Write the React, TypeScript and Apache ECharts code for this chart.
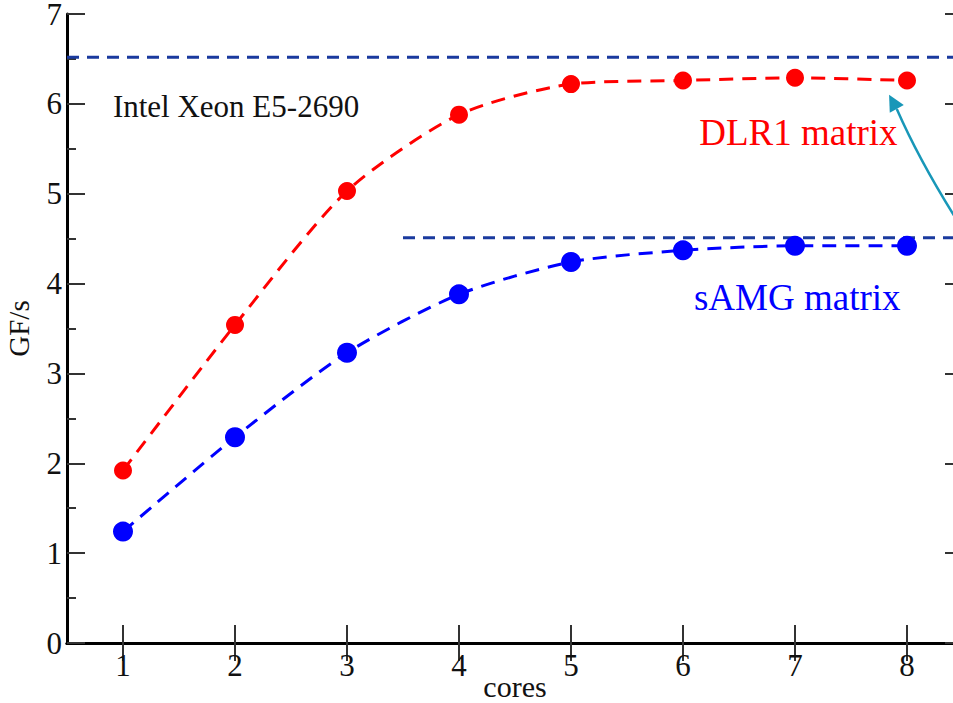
import React, { useEffect, useRef } from "react";
import * as echarts from "echarts";

const cores = [1, 2, 3, 4, 5, 6, 7, 8];
const dlr1 = [1.92, 3.54, 5.03, 5.88, 6.22, 6.26, 6.29, 6.26];
const samg = [1.24, 2.29, 3.23, 3.88, 4.24, 4.37, 4.42, 4.42];
const dlr1Peak = 6.52;
const samgPeak = 4.51;
const samgPeakStart = 3.5;
const xRange = [0.5, 8.5];
const yTicks = [0, 1, 2, 3, 4, 5, 6, 7];

const FONT = "'Liberation Serif', 'Times New Roman', serif";

export default function App() {
  const ref = useRef<HTMLDivElement>(null);
  useEffect(() => {
    document.body.style.margin = "0";
    const chart = echarts.init(ref.current!, null, { renderer: "svg" });
    const axisLine = { show: true, lineStyle: { color: "#000", width: 3 } };
    const tick = (show: boolean) => ({
      show,
      inside: true,
      length: 18,
      lineStyle: { color: "#333", width: 2 },
      customValues: cores,
    });
    chart.setOption({
      animation: false,
      backgroundColor: "#fff",
      grid: {
        left: 67,
        top: 14,
        right: -10,
        bottom: 60,
        containLabel: false,
        outerBoundsMode: "none",
      },
      xAxis: [
        {
          type: "value",
          min: xRange[0],
          max: xRange[1],
          position: "bottom",
          axisLine,
          axisTick: tick(true),
          splitLine: { show: false },
          axisLabel: {
            customValues: cores,
            fontFamily: FONT,
            fontSize: 31,
            color: "#111",
            margin: 7,
          },
          name: "cores",
          nameLocation: "middle",
          nameGap: 30,
          nameMoveOverlap: false,
          nameTextStyle: { fontFamily: FONT, fontSize: 30, color: "#111", lineHeight: 26 },
        },
        {
          type: "value",
          min: xRange[0],
          max: xRange[1],
          position: "top",
          axisLine,
          axisTick: tick(true),
          splitLine: { show: false },
          axisLabel: { show: false },
        },
      ],
      yAxis: [
        {
          type: "value",
          min: yTicks[0],
          max: yTicks[yTicks.length - 1],
          interval: 1,
          axisLine,
          axisTick: { show: true, inside: true, length: 18, lineStyle: { color: "#333", width: 2 } },
          minorTick: { show: true, splitNumber: 2, length: 9, lineStyle: { color: "#333", width: 2 } },
          splitLine: { show: false },
          axisLabel: {
            fontFamily: FONT,
            fontSize: 31,
            color: "#111",
            margin: 5,
            lineHeight: 20,
            padding: [4, 0, 0, 0],
          },
          name: "GF/s",
          nameLocation: "middle",
          nameRotate: 90,
          nameGap: 34,
          nameMoveOverlap: false,
          nameTextStyle: { fontFamily: FONT, fontSize: 29, color: "#111" },
        },
        {
          type: "value",
          position: "right",
          min: yTicks[0],
          max: yTicks[yTicks.length - 1],
          interval: 1,
          axisLine,
          axisTick: { show: true, inside: true, length: 18, lineStyle: { color: "#333", width: 2 } },
          minorTick: { show: true, splitNumber: 2, length: 9, lineStyle: { color: "#333", width: 2 } },
          splitLine: { show: false },
          axisLabel: { show: false },
        },
      ],
      series: [
        {
          name: "peak DLR1",
          type: "line",
          data: [
            [xRange[0], dlr1Peak],
            [xRange[1], dlr1Peak],
          ],
          showSymbol: false,
          symbol: "none",
          lineStyle: { color: "#1a3a9e", width: 3, type: [12, 8] },
          z: 1,
        },
        {
          name: "peak sAMG",
          type: "line",
          data: [
            [samgPeakStart, samgPeak],
            [xRange[1], samgPeak],
          ],
          showSymbol: false,
          symbol: "none",
          lineStyle: { color: "#1a3a9e", width: 3, type: [12, 8] },
          z: 1,
        },
        {
          name: "DLR1 matrix",
          type: "line",
          data: cores.map((c, i) => [c, dlr1[i]]),
          smooth: 0.25,
          symbol: "circle",
          symbolSize: 18,
          itemStyle: { color: "#ff0000" },
          lineStyle: { color: "#ff0000", width: 3, type: [14, 9] },
          z: 3,
        },
        {
          name: "sAMG matrix",
          type: "line",
          data: cores.map((c, i) => [c, samg[i]]),
          smooth: 0.25,
          symbol: "circle",
          symbolSize: 20,
          itemStyle: { color: "#0000ff" },
          lineStyle: { color: "#0000ff", width: 3, type: [14, 9] },
          z: 3,
        },
      ],
    });

    const p = (x: number, y: number) => chart.convertToPixel({ gridIndex: 0 }, [x, y]) as number[];
    const intel = p(0.91, 5.97);
    const dl = p(7.03, 5.68);
    const sa = p(7.02, 3.85);
    const tip = p(7.84, 6.1);
    const start = p(8.5, 4.6);
    const dx = tip[0] - start[0];
    const dy = tip[1] - start[1];
    const len = Math.hypot(dx, dy);
    const ux = dx / len;
    const uy = dy / len;
    const headLen = 16;
    const headW = 8;
    const base = [tip[0] - ux * headLen, tip[1] - uy * headLen];
    const cp = [(tip[0] + start[0]) / 2 - 5, (tip[1] + start[1]) / 2 + 2];

    chart.setOption({
      graphic: [
        {
          type: "text",
          x: intel[0],
          y: intel[1],
          style: {
            text: "Intel Xeon E5-2690",
            fontFamily: FONT,
            fontSize: 31,
            fill: "#111",
            align: "left",
            verticalAlign: "middle",
          },
        },
        {
          type: "text",
          x: dl[0],
          y: dl[1],
          style: {
            text: "DLR1 matrix",
            fontFamily: FONT,
            fontSize: 37,
            fill: "#ff0000",
            align: "center",
            verticalAlign: "middle",
          },
        },
        {
          type: "text",
          x: sa[0],
          y: sa[1],
          style: {
            text: "sAMG matrix",
            fontFamily: FONT,
            fontSize: 37,
            fill: "#0000ff",
            align: "center",
            verticalAlign: "middle",
          },
        },
        {
          type: "bezierCurve",
          shape: {
            x1: start[0],
            y1: start[1],
            x2: base[0],
            y2: base[1],
            cpx1: cp[0],
            cpy1: cp[1],
          },
          style: { stroke: "#1897b8", lineWidth: 2.5, fill: "none" },
        },
        {
          type: "polygon",
          shape: {
            points: [
              tip,
              [base[0] - uy * headW, base[1] + ux * headW],
              [base[0] + uy * headW, base[1] - ux * headW],
            ],
          },
          style: { fill: "#1897b8" },
        },
      ],
    });

    return () => chart.dispose();
  }, []);
  return <div ref={ref} style={{ width: 953, height: 703 }} />;
}
